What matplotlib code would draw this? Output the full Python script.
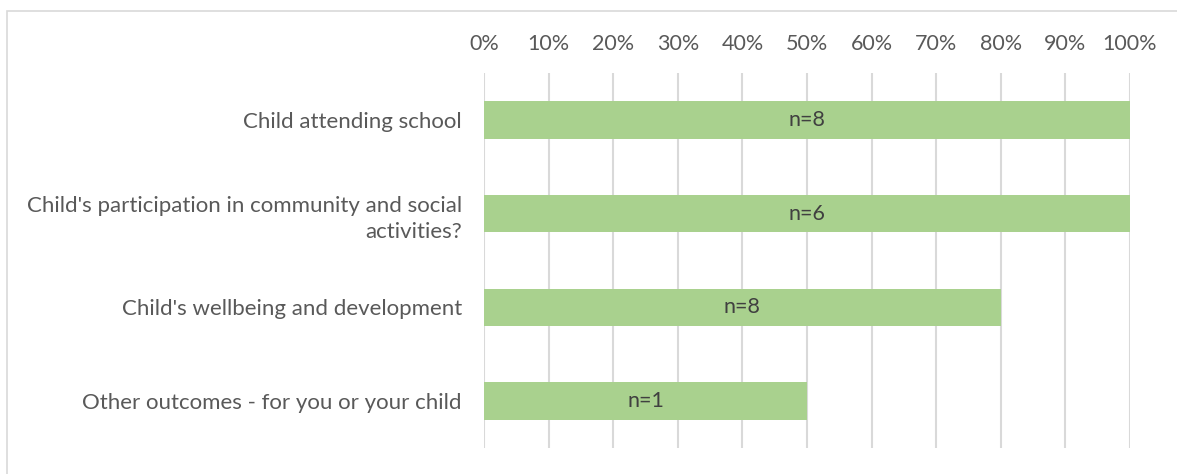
import numpy as np
import matplotlib.pyplot as plt
from matplotlib.patches import Rectangle

plt.rcParams['font.family'] = ['Lato', 'DejaVu Sans']

# survey outcomes, share of respondents reporting improvement
categories = ['Child attending school',
              "Child's participation in community and social\nactivities?",
              "Child's wellbeing and development",
              'Other outcomes - for you or your child']
percent = [100, 100, 80, 50]
counts = ['n=8', 'n=6', 'n=8', 'n=1']
ticks = np.arange(0, 101, 10)

fig = plt.figure(figsize=(11.77, 4.74), dpi=100)
ax = fig.add_axes([484 / 1177, 1 - 448 / 474, 646 / 1177, 375 / 474])

y = np.arange(len(categories))
bars = ax.barh(y, percent, height=0.4, color='#A9D18E', zorder=2)
for b, txt in zip(bars, counts):
    ax.text(b.get_width() / 2, b.get_y() + b.get_height() / 2, txt,
            ha='center', va='center', fontsize=15.5, color='#404040', zorder=3)

ax.set_xlim(0, 100)
ax.set_ylim(len(categories) - 0.5, -0.5)
ax.set_xticks(ticks)
ax.set_xticklabels([f'{t}%' for t in ticks])
ax.set_yticks(y)
ax.set_yticklabels(categories, ha='right', multialignment='right',
                   linespacing=1.4)
ax.xaxis.tick_top()
ax.tick_params(axis='x', length=0, pad=14, labelsize=15.5, labelcolor='#595959')
ax.tick_params(axis='y', length=0, pad=16, labelsize=16, labelcolor='#595959')
ax.grid(axis='x', color='#D9D9D9', linewidth=1.5, zorder=0)
for s in ax.spines.values():
    s.set_visible(False)

# chart frame
fig.patches.append(Rectangle((7 / 1177, -0.1), 1.2, 1 - 11 / 474 + 0.1,
                             transform=fig.transFigure, fill=False,
                             edgecolor='#D9D9D9', linewidth=1.2))

fig.savefig('out.png', dpi=100)
